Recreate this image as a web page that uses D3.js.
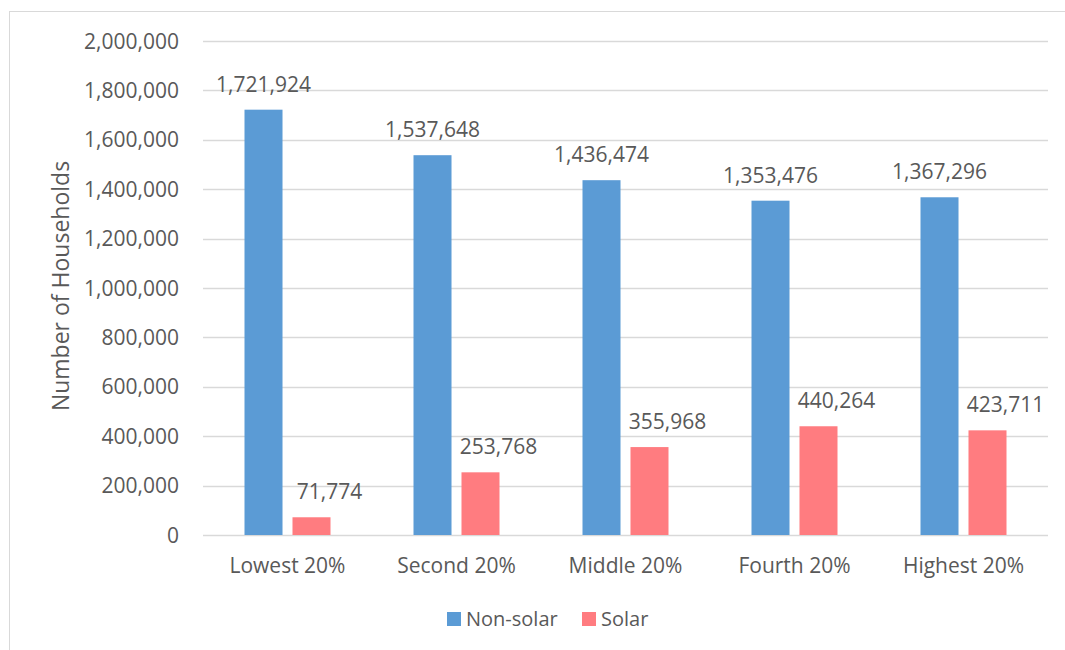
<!DOCTYPE html>
<html>
<head>
<meta charset="utf-8">
<script src="https://cdn.jsdelivr.net/npm/d3@7"></script>
<style>
  body { margin: 0; background: #fff; }
  text { font-family: "Open Sans", sans-serif; fill: #595959; }
</style>
</head>
<body>
<script>
var categories = ["Lowest 20%", "Second 20%", "Middle 20%", "Fourth 20%", "Highest 20%"];
var seriesNames = ["Non-solar", "Solar"];
var nonSolar = [1721924, 1537648, 1436474, 1353476, 1367296];
var solar = [71774, 253768, 355968, 440264, 423711];
var yTicks = [0, 200000, 400000, 600000, 800000, 1000000, 1200000, 1400000, 1600000, 1800000, 2000000];

var colors = d3.scaleOrdinal().domain(seriesNames).range(["#5B9BD5", "#FF7C80"]);
// solar labels sit a little to the right of their bars, as in the original
var labelShift = { "Non-solar": 0, "Solar": 18 };

var width = 1065, height = 650;
var plotLeft = 203, plotRight = 1048, plotTop = 41, plotBottom = 535;

var svg = d3.select("body").append("svg")
    .attr("width", width)
    .attr("height", height);

// chart frame
svg.append("rect")
    .attr("x", 9.5).attr("y", 11.5)
    .attr("width", 1070).attr("height", 660)
    .attr("fill", "none")
    .attr("stroke", "#d9d9d9");

var x0 = d3.scaleBand().domain(categories).range([plotLeft, plotRight]);
var x1 = d3.scaleBand().domain(seriesNames).range([0, 86]).paddingInner(0.208);
var groupOffset = (x0.bandwidth() - 86) / 2;

var y = d3.scaleLinear().domain([0, 2000000]).range([plotBottom, plotTop]);
var fmt = d3.format(",");

// gridlines
svg.append("g")
    .selectAll("line")
    .data(yTicks)
    .enter()
    .append("line")
    .attr("x1", plotLeft).attr("x2", plotRight)
    .attr("y1", function(d) { return Math.round(y(d)) + 0.5; })
    .attr("y2", function(d) { return Math.round(y(d)) + 0.5; })
    .attr("stroke", "#d9d9d9")
    .attr("stroke-width", 1.3);

// y axis labels
svg.append("g")
    .selectAll("text")
    .data(yTicks)
    .enter()
    .append("text")
    .attr("x", 179)
    .attr("y", function(d) { return y(d) + 7.5; })
    .attr("text-anchor", "end")
    .style("font-size", "21px")
    .text(function(d) { return fmt(d); });

svg.append("text")
    .attr("transform", "translate(69," + ((plotTop + plotBottom) / 2 - 2) + ") rotate(-90)")
    .attr("text-anchor", "middle")
    .style("font-size", "23px")
    .text("Number of Households");

var rows = categories.map(function(c, i) {
  return { cat: c, values: [
    { key: "Non-solar", value: nonSolar[i] },
    { key: "Solar", value: solar[i] }
  ] };
});

var groups = svg.selectAll("g.cat")
    .data(rows)
    .enter()
    .append("g")
    .attr("class", "cat")
    .attr("transform", function(d) { return "translate(" + (x0(d.cat) + groupOffset) + ",0)"; });

groups.selectAll("rect")
    .data(function(d) { return d.values; })
    .enter()
    .append("rect")
    .attr("x", function(d) { return x1(d.key); })
    .attr("y", function(d) { return y(d.value); })
    .attr("width", x1.bandwidth())
    .attr("height", function(d) { return plotBottom - y(d.value); })
    .attr("fill", function(d) { return colors(d.key); });

groups.selectAll("text.val")
    .data(function(d) { return d.values; })
    .enter()
    .append("text")
    .attr("class", "val")
    .attr("x", function(d) { return x1(d.key) + x1.bandwidth() / 2 + labelShift[d.key]; })
    .attr("y", function(d) { return y(d.value) - 18; })
    .attr("text-anchor", "middle")
    .style("font-size", "21px")
    .text(function(d) { return fmt(d.value); });

// x axis labels
svg.append("g")
    .selectAll("text")
    .data(categories)
    .enter()
    .append("text")
    .attr("x", function(d) { return x0(d) + x0.bandwidth() / 2; })
    .attr("y", 573)
    .attr("text-anchor", "middle")
    .style("font-size", "21px")
    .text(function(d) { return d; });

// legend
var legendX = [447, 582];
var legend = svg.selectAll("g.legend")
    .data(seriesNames)
    .enter()
    .append("g")
    .attr("class", "legend")
    .attr("transform", function(d, i) { return "translate(" + legendX[i] + ",612)"; });

legend.append("rect")
    .attr("width", 14).attr("height", 14)
    .attr("fill", function(d) { return colors(d); });

legend.append("text")
    .attr("x", 19).attr("y", 14)
    .style("font-size", "20px")
    .text(function(d) { return d; });
</script>
</body>
</html>
